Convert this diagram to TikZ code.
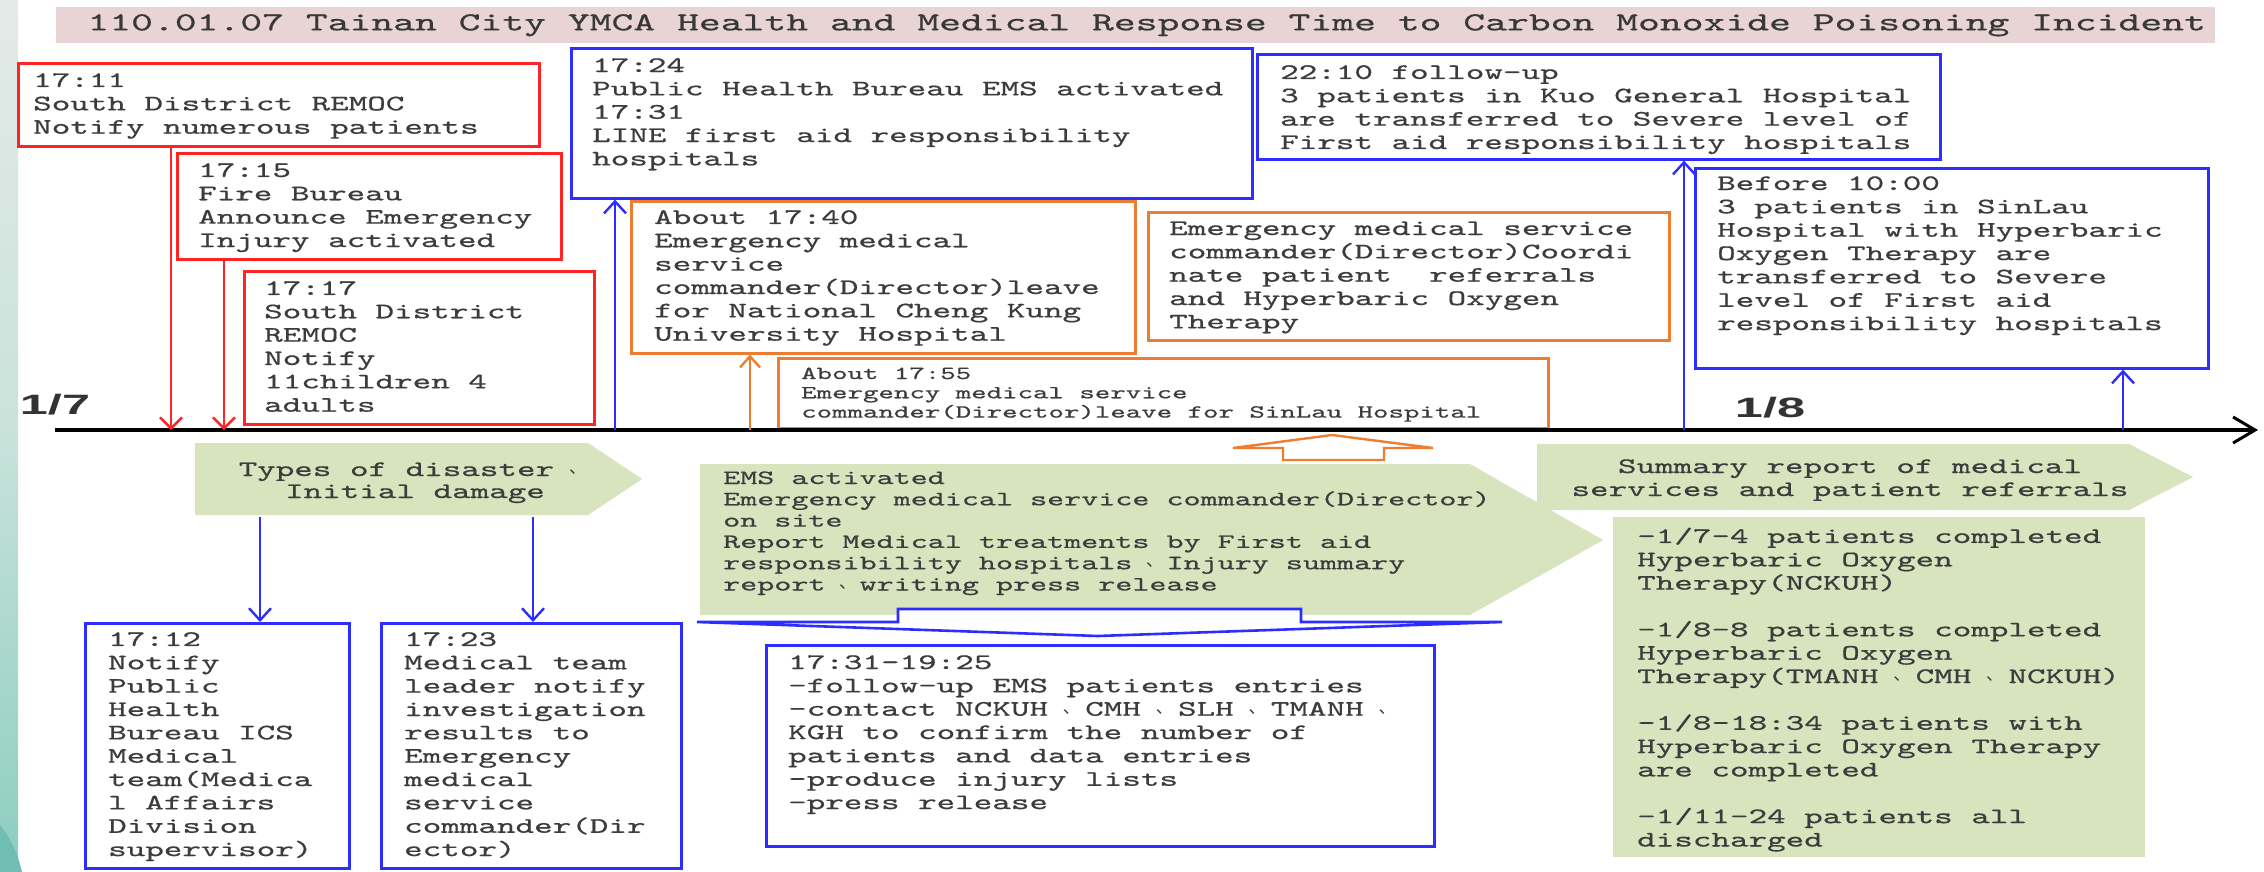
\documentclass[tikz,border=0pt]{standalone}
\usepackage{fontspec}
\setmonofont{lmmono10-regular}[Extension=.otf,FakeStretch=1.6,FakeBold=0.6]
\newfontfamily\labf{Liberation Sans}[FakeStretch=1.8]
\newfontfamily\cjkf{Noto Sans CJK SC}
\usetikzlibrary{arrows.meta}
\definecolor{cred}{RGB}{255,35,35}
\definecolor{cblue}{RGB}{45,45,255}
\definecolor{corange}{RGB}{237,125,49}
\definecolor{cgreen}{RGB}{215,228,189}
\definecolor{ctitle}{RGB}{232,212,212}
\definecolor{ctext}{RGB}{60,60,60}
\definecolor{stripA}{RGB}{228,234,231}
\definecolor{stripB}{RGB}{200,226,218}
\definecolor{stripC}{RGB}{140,205,192}
\newcommand\fbody{\ttfamily\fontsize{22.1pt}{23.35pt}\selectfont}
\newcommand\fems{\ttfamily\fontsize{20.3pt}{21.3pt}\selectfont}
\newcommand\fsmall{\ttfamily\fontsize{18.4pt}{19.3pt}\selectfont}
\newcommand\ftitle{\ttfamily\fontsize{26pt}{28pt}\selectfont}
\newcommand\dun{\setbox0\hbox{xx}\hbox to\wd0{\hskip0.4\wd0\raisebox{0.12em}{\cjkf\fontsize{17pt}{17pt}\selectfont 、}\hss}}
\tikzset{
  frame/.style={draw=#1, line width=2.6pt, inner sep=0pt, anchor=north west},
  txt/.style={font=\fbody, text=ctext, align=left, inner sep=0pt, anchor=base west},
  rarr/.style={draw=cred, line width=2.4pt, -{Straight Barb[length=11pt,width=22pt]}},
  barr/.style={draw=cblue, line width=2.4pt, -{Straight Barb[length=12pt,width=22pt]}},
  oarr/.style={draw=corange, line width=2.4pt, -{Straight Barb[length=11pt,width=20pt]}},
  axisline/.style={draw=black, line width=4.5pt, -{Straight Barb[length=22pt,width=26pt,line width=3pt]}},
  daylabel/.style={font=\labf\bfseries\fontsize{28pt}{30pt}\selectfont, text=black!80, inner sep=0pt, anchor=base}
}
\begin{document}
\begin{tikzpicture}[x=1pt,y=-1pt]
\useasboundingbox (0,0) rectangle (2264,872);
\fill[white] (0,0) rectangle (2264,872);
\shade[top color=stripA, bottom color=stripC, middle color=stripB] (0,0) rectangle (18,872);
\fill[stripC!80!teal] (0,825) .. controls (12,840) and (18,855) .. (22,872) -- (0,872) -- cycle;

% title
\node[fill=ctitle, minimum width=2159pt, minimum height=36pt, inner sep=0pt, anchor=north west] (titlebar) at (56,7) {};
\node[font=\ftitle, text=black!78, inner sep=0pt] (title) at ([xshift=11pt]titlebar.center) {110.01.07 Tainan City YMCA Health and Medical Response Time to Carbon Monoxide Poisoning Incident};

% green shapes
\fill[cgreen] (700,464) -- (1470,464) -- (1603,540) -- (1470,615) -- (700,615) -- cycle;
\fill[cgreen] (195,443) -- (588,443) -- (642,479) -- (588,515) -- (195,515) -- cycle;
\fill[cgreen] (1537,444) -- (2129,444) -- (2193,477) -- (2129,510) -- (1537,510) -- cycle;
\node[fill=cgreen, minimum width=532pt, minimum height=340pt, inner sep=0pt, anchor=north west] (M) at (1613,517) {};

% frames
\node[frame=cred, minimum width=521pt, minimum height=83pt] (A) at (17,62) {};
\node[frame=cred, minimum width=384pt, minimum height=106pt] (B) at (176,152) {};
\node[frame=cred, minimum width=350pt, minimum height=153pt] (C) at (243,270) {};
\node[frame=corange, minimum width=504pt, minimum height=152pt] (E) at (630,200) {};
\node[frame=cblue, minimum width=681pt, minimum height=150pt] (D) at (570,47) {};
\node[frame=corange, minimum width=770pt, minimum height=70pt] (F) at (777,357) {};
\node[frame=corange, minimum width=521pt, minimum height=128pt] (G) at (1147,211) {};
\node[frame=cblue, minimum width=683pt, minimum height=105pt] (H) at (1256,53) {};
\node[frame=cblue, minimum width=513pt, minimum height=200pt] (I) at (1694,167) {};
\node[frame=cblue, minimum width=264pt, minimum height=245pt] (J) at (84,622) {};
\node[frame=cblue, minimum width=300pt, minimum height=245pt] (K) at (380,622) {};
\node[frame=cblue, minimum width=668pt, minimum height=201pt] (L) at (765,644) {};

% texts (anchored at the baseline of their last line)
\node[txt] (At) at (33,133.7) {17:11\\South District REMOC\\Notify numerous patients};
\node[txt] (Bt) at (198,247) {17:15\\Fire Bureau\\Announce Emergency\\Injury activated};
\node[txt] (Ct) at (264,411.7) {17:17\\South District\\REMOC\\Notify\\11children 4\\adults};
\node[txt] (Dt) at (592,165.4) {17:24\\Public Health Bureau EMS activated\\17:31\\LINE first aid responsibility\\hospitals};
\node[txt] (Et) at (654,340.7) {About 17:40\\Emergency medical\\service\\commander(Director)leave\\for National Cheng Kung\\University Hospital};
\node[txt, font=\fsmall] (Ft) at (801,417.6) {About 17:55\\Emergency medical service\\commander(Director)leave for SinLau Hospital};
\node[txt] (Gt) at (1169,328.4) {Emergency medical service\\commander(Director)Coordi\\nate patient~ referrals\\and Hyperbaric Oxygen\\Therapy};
\node[txt] (Ht) at (1280,149) {22:10 follow-up\\3 patients in Kuo General Hospital\\are transferred to Severe level of\\First aid responsibility hospitals};
\node[txt] (It) at (1717,330.1) {Before 10:00\\3 patients in SinLau\\Hospital with Hyperbaric\\Oxygen Therapy are\\transferred to Severe\\level of First aid\\responsibility hospitals};
\node[txt] (Jt) at (108,856.1) {17:12\\Notify\\Public\\Health\\Bureau ICS\\Medical\\team(Medica\\l Affairs\\Division\\supervisor)};
\node[txt] (Kt) at (404,856.1) {17:23\\Medical team\\leader notify\\investigation\\results to\\Emergency\\medical\\service\\commander(Dir\\ector)};
\node[txt] (Lt) at (788,809.1) {17:31-19:25\\-follow-up EMS patients entries\\-contact NCKUH\dun CMH\dun SLH\dun TMANH\dun\\KGH to confirm the number of\\patients and data entries\\-produce injury lists\\-press release};
\node[txt] (Mt) at (1637,846.5) {-1/7-4 patients completed\\Hyperbaric Oxygen\\Therapy(NCKUH)\\[23.35pt]-1/8-8 patients completed\\Hyperbaric Oxygen\\Therapy(TMANH\dun CMH\dun NCKUH)\\[23.35pt]-1/8-18:34 patients with\\Hyperbaric Oxygen Therapy\\are completed\\[23.35pt]-1/11-24 patients all\\discharged};
\node[txt, font=\fems] (P2t) at (723,590.5) {EMS activated\\Emergency medical service commander(Director)\\on site\\Report Medical treatments by First aid\\responsibility hospitals\dun Injury summary\\report\dun writing press release};
\node[txt, anchor=base, align=center, font=\ttfamily\fontsize{22.1pt}{22pt}\selectfont] (P1t) at (415,498) {Types of disaster\dun\\Initial damage};
\node[txt, anchor=base, align=center, font=\ttfamily\fontsize{22.1pt}{23pt}\selectfont] (P3t) at (1850,496) {Summary report of medical\\services and patient referrals};

% block arrows
\draw[corange, line width=2.4pt, line join=miter] (1283,460) -- (1283,448) -- (1233,448) -- (1332,435) -- (1433,448) -- (1384,448) -- (1384,460) -- cycle;
\filldraw[draw=cblue, fill=white, line width=2.6pt, line join=miter] (898,609) -- (1301,609) -- (1301,622) -- (1502,622) -- (1098,636) -- (697,622) -- (898,622) -- cycle;

% axis
\coordinate (ax0) at (55,430);
\coordinate (ax1) at (2258,430);
\draw[axisline] (ax0) -- (ax1);
\node[daylabel] (d17) at (55,414) {1/7};
\node[daylabel] (d18) at (1770,417) {1/8};
\coordinate (tA) at (171,430);
\coordinate (tB) at (224,430);
\coordinate (tD) at (615,430);
\coordinate (tE) at (750,430);
\coordinate (tH) at (1684,430);
\coordinate (tI) at (2123,430);
\coordinate (p1a) at (260,517);
\coordinate (p1b) at (533,517);

% connectors
\draw[rarr] (A.south -| tA) -- (tA);
\draw[rarr] (B.south -| tB) -- (tB);
\draw[barr] (tD) -- (D.south -| tD);
\draw[oarr] (tE) -- (E.south -| tE);
\draw[barr] (tH) -- (H.south -| tH);
\draw[barr] (tI) -- (I.south -| tI);
\draw[barr] (p1a) -- (J.north -| p1a);
\draw[barr] (p1b) -- (K.north -| p1b);
\end{tikzpicture}
\end{document}
